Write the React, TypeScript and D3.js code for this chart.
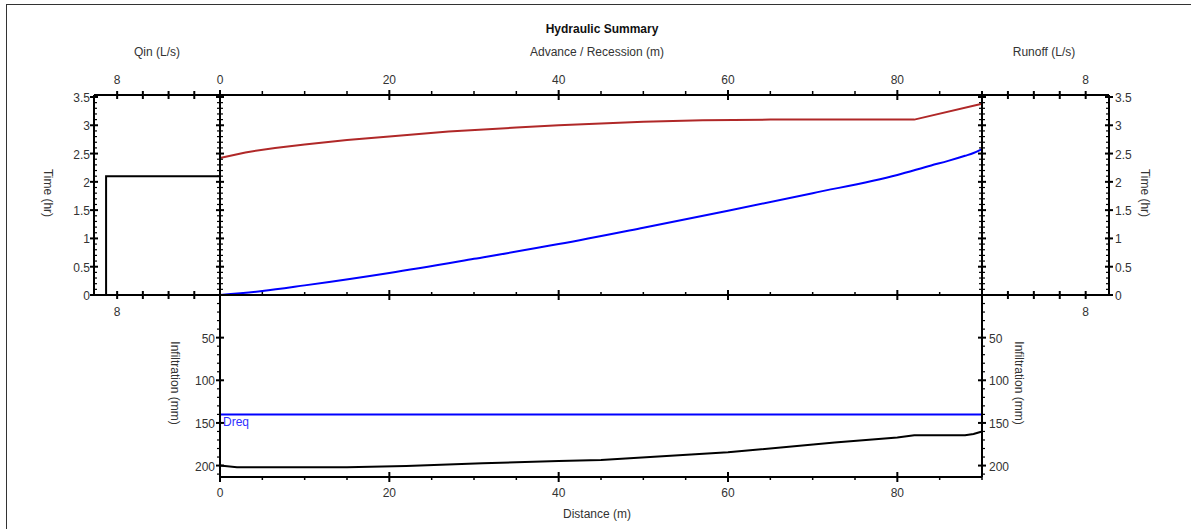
import React from "react";
import * as d3 from "d3";

// ---- Data ----
const advanceDist = [0, 5, 10, 20, 30, 40, 50, 60, 70, 80, 84, 86, 88, 89, 90];
const advanceTime = [0, 0.07, 0.17, 0.39, 0.64, 0.9, 1.19, 1.49, 1.8, 2.12, 2.29, 2.37, 2.46, 2.51, 2.58];

const recessionDist = [0, 3, 6.5, 10, 15, 20, 27, 35, 40, 45, 50, 57, 65, 82, 90];
const recessionTime = [2.42, 2.52, 2.6, 2.66, 2.74, 2.8, 2.89, 2.96, 3.0, 3.03, 3.06, 3.09, 3.1, 3.1, 3.38];

const infilDist = [0, 2, 15, 22, 31, 40, 45, 60, 72.6, 80, 82, 88, 89, 90];
const infilDepth = [200, 202, 202, 200.5, 197.3, 194.6, 193.4, 184.5, 173, 167.2, 164.5, 164.5, 163, 160];

const qinTime = [0, 2.1, 2.1];
const qinFlow = [8.86, 8.86, 0];

const dreq = 140;

const distTicks = [0, 20, 40, 60, 80];
const timeTicks = [0, 0.5, 1, 1.5, 2, 2.5, 3, 3.5];
const infilTicks = [50, 100, 150, 200];
const flowTicks = [0, 2, 4, 6, 8];
const flowLabels = [8];

// ---- Layout ----
const W = 1191;
const H = 529;
const X0 = 220, X1 = 982;
const QL = 94, RR = 1109;
const YT = 95, YM = 295, YB = 477;

const FONT = "'Liberation Sans', Arial, sans-serif";
const TXT = "#333";

export default function App() {
  const x = d3.scaleLinear().domain([0, 90]).range([X0, X1]);
  const yT = d3.scaleLinear().domain([0, 3.535]).range([YM, YT]);
  const yI = d3.scaleLinear().domain([0, 213.4]).range([YM, YB]);
  const xQ = d3.scaleLinear().domain([0, 9.8]).range([X0, QL]);
  const xR = d3.scaleLinear().domain([0, 9.8]).range([X1, RR]);

  const line = d3.line<[number, number]>().x((d) => d[0]).y((d) => d[1]);
  const smooth = d3.line<[number, number]>().x((d) => d[0]).y((d) => d[1]).curve(d3.curveMonotoneX);

  const advPath = smooth(advanceDist.map((d, i) => [x(d), yT(advanceTime[i])]));
  const recPath = line(recessionDist.map((d, i) => [x(d), yT(recessionTime[i])]));
  const infPath = line(infilDist.map((d, i) => [x(d), yI(infilDepth[i])]));
  const qinPath = line(qinTime.map((t, i) => [xQ(qinFlow[i]), yT(t)]));

  const els: React.ReactNode[] = [];
  let k = 0;
  const L = (x1: number, y1: number, x2: number, y2: number, w = 1) =>
    els.push(<line key={k++} x1={x1} y1={y1} x2={x2} y2={y2} stroke="#000" strokeWidth={w} />);

  const distMinor = d3.range(0, 91, 5).filter((v) => v % 20 !== 0);
  distTicks.forEach((v) => L(x(v), YT - 5, x(v), YT + 5, 2));
  distMinor.forEach((v) => L(x(v), YT - 4, x(v), YT, 1.5));
  distTicks.forEach((v) => L(x(v), YM - 5, x(v), YM + 5, 2));
  distMinor.forEach((v) => L(x(v), YM - 3, x(v), YM, 1.5));
  distTicks.forEach((v) => L(x(v), YB - 5, x(v), YB + 5, 2));
  distMinor.forEach((v) => L(x(v), YB, x(v), YB + 3, 1.5));

  flowTicks.forEach((v) => {
    L(xQ(v), YT - 4, xQ(v), YT + 4, 2);
    L(xQ(v), YM - 4, xQ(v), YM + 4, 2);
    L(xR(v), YT - 4, xR(v), YT + 4, 2);
    L(xR(v), YM - 4, xR(v), YM + 4, 2);
  });

  const timeMinor = d3.range(0, 35.01, 1).map((v) => v / 10).filter((v) => Math.abs(v * 2 - Math.round(v * 2)) > 1e-6);
  timeTicks.forEach((v) => {
    [QL, X0, X1, RR].forEach((xx) => L(xx - 4, yT(v), xx + 4, yT(v), 2));
  });
  timeMinor.forEach((v) => {
    L(QL, yT(v), QL + 3, yT(v), 1.2);
    L(X0 - 3, yT(v), X0 + 3, yT(v), 1.2);
    L(X1 - 3, yT(v), X1 + 3, yT(v), 1.2);
    L(RR - 3, yT(v), RR, yT(v), 1.2);
  });

  const infMinor = d3.range(10, 211, 10).filter((v) => v % 50 !== 0);
  infilTicks.forEach((v) => {
    L(X0 - 4, yI(v), X0 + 4, yI(v), 2);
    L(X1 - 4, yI(v), X1 + 4, yI(v), 2);
  });
  infMinor.forEach((v) => {
    L(X0 - 3, yI(v), X0, yI(v), 1.2);
    L(X1, yI(v), X1 + 3, yI(v), 1.2);
  });

  const txt = (
    s: string,
    tx: number,
    ty: number,
    anchor: "start" | "middle" | "end" = "middle",
    extra: any = {}
  ) =>
    els.push(
      <text
        key={k++}
        x={tx}
        y={ty}
        textAnchor={anchor}
        dominantBaseline="central"
        fontFamily={FONT}
        fontSize={12}
        fill={TXT}
        {...extra}
      >
        {s}
      </text>
    );

  txt("Hydraulic Summary", 602, 29, "middle", { fontWeight: "bold", fill: "#111" });
  txt("Advance / Recession (m)", 597, 52);
  txt("Qin (L/s)", 157, 52);
  txt("Runoff (L/s)", 1044, 52);
  txt("Distance (m)", 597, 514);

  distTicks.forEach((v) => {
    txt(String(v), x(v), 80);
    txt(String(v), x(v), 493);
  });
  flowLabels.forEach((v) => {
    txt(String(v), xQ(v), 80);
    txt(String(v), xR(v), 80);
    txt(String(v), xQ(v), 312);
    txt(String(v), xR(v), 312);
  });

  timeTicks.forEach((v) => {
    txt(String(v), QL - 4, yT(v) + 1, "end");
    txt(String(v), RR + 6, yT(v) + 1, "start");
  });
  infilTicks.forEach((v) => {
    txt(String(v), X0 - 5, yI(v) + 1, "end");
    txt(String(v), X1 + 7, yI(v) + 1, "start");
  });

  const rot = (s: string, cx: number, cy: number) =>
    els.push(
      <text
        key={k++}
        transform={`translate(${cx},${cy}) rotate(90)`}
        textAnchor="middle"
        dominantBaseline="central"
        fontFamily={FONT}
        fontSize={12}
        fill={TXT}
      >
        {s}
      </text>
    );
  rot("Time (hr)", 48, 193);
  rot("Time (hr)", 1145, 193);
  rot("Infiltration (mm)", 175, 383);
  rot("Infiltration (mm)", 1019, 383);

  return (
    <svg
      width={W}
      height={H}
      style={{ position: "absolute", left: 0, top: 0, background: "#fff" }}
    >
      <rect x={6.5} y={4.5} width={1300} height={600} fill="#fff" stroke="#333" strokeWidth={1} />
      <path d={recPath || ""} fill="none" stroke="#b02828" strokeWidth={2} />
      <path d={advPath || ""} fill="none" stroke="#0000ff" strokeWidth={2} />
      <line x1={X0} x2={X1} y1={yI(dreq)} y2={yI(dreq)} stroke="#0000ff" strokeWidth={2} />
      <text x={X0 + 3} y={yI(dreq) + 8} dominantBaseline="central" fontFamily={FONT} fontSize={12} fill="#3030ff">
        Dreq
      </text>
      <path d={infPath || ""} fill="none" stroke="#000" strokeWidth={2} />
      <path d={qinPath || ""} fill="none" stroke="#000" strokeWidth={2} />
      <line x1={QL} x2={RR} y1={YT} y2={YT} stroke="#000" strokeWidth={2} />
      <line x1={QL} x2={RR} y1={YM} y2={YM} stroke="#000" strokeWidth={2} />
      <line x1={X0} x2={X1} y1={YB} y2={YB} stroke="#000" strokeWidth={2} />
      {[QL, RR].map((xx) => (
        <line key={"v" + xx} x1={xx} x2={xx} y1={YT} y2={YM} stroke="#000" strokeWidth={2} />
      ))}
      {[X0, X1].map((xx) => (
        <line key={"w" + xx} x1={xx} x2={xx} y1={YT} y2={YB} stroke="#000" strokeWidth={2} />
      ))}
      {els}
    </svg>
  );
}
